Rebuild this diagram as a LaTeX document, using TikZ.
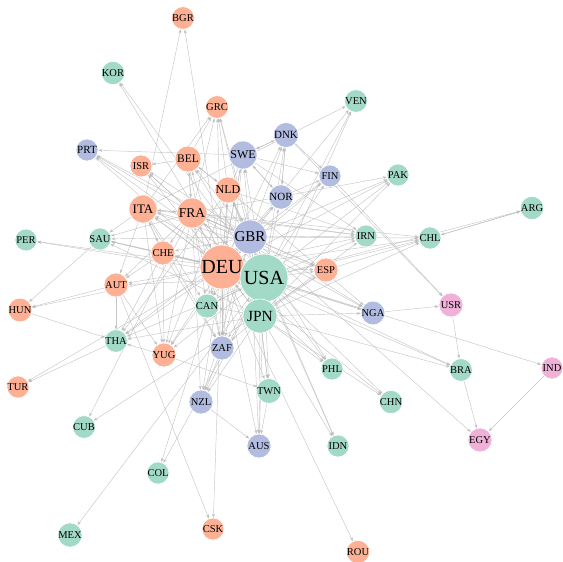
\documentclass[tikz,border=0pt]{standalone}
\usepackage{fontspec}
\setmainfont{Liberation Serif}
\usetikzlibrary{arrows.meta,backgrounds}
\definecolor{co}{HTML}{FDB094}
\definecolor{cg}{HTML}{A2DAC7}
\definecolor{cb}{HTML}{B1BCE0}
\definecolor{cp}{HTML}{EFB1D8}
\definecolor{ce}{HTML}{BDBDBD}
\tikzset{
  cn/.style={circle, inner sep=0pt, draw=white, line width=0.6pt, text=black},
  edge/.style={draw=ce, line width=0.45pt, -{Stealth[length=4pt,width=3pt]}, opacity=0.85}
}
\newcommand{\cty}[6]{\node[cn, fill=#5, minimum size=#4*2pt, font=\fontsize{#6}{#6}\selectfont] (#1) at (#2,#3) {#1};}
\begin{document}
\begin{tikzpicture}[x=1pt,y=-1pt]
\useasboundingbox (0,0) rectangle (563,562);
\cty{BGR}{183}{18}{11}{co}{10.5}
\cty{KOR}{113}{73}{11}{cg}{10.5}
\cty{GRC}{217}{107}{11}{co}{10.5}
\cty{VEN}{356}{101}{11}{cg}{10.5}
\cty{PRT}{87}{150}{11}{cb}{11}
\cty{ISR}{141}{166}{11}{co}{10.5}
\cty{BEL}{188}{159}{13}{co}{11.5}
\cty{SWE}{243}{155}{14}{cb}{12}
\cty{DNK}{286}{135}{12}{cb}{11}
\cty{FIN}{330}{176}{11}{cb}{10.5}
\cty{PAK}{398}{175}{11}{cg}{10.5}
\cty{NLD}{228}{190}{13}{co}{12}
\cty{NOR}{281}{197}{12}{cb}{11}
\cty{ITA}{143}{209}{14}{co}{13}
\cty{FRA}{192}{213}{15}{co}{13.5}
\cty{GBR}{250}{237}{17}{cb}{15}
\cty{SAU}{100}{239}{11}{cg}{10.5}
\cty{PER}{26}{240}{11}{cg}{10.5}
\cty{CHE}{163}{253}{12}{co}{10.5}
\cty{IRN}{366}{236}{11}{cg}{10.5}
\cty{CHL}{430}{238}{11}{cg}{10.5}
\cty{ARG}{532}{208}{11}{cg}{10.5}
\cty{DEU}{222}{267}{22}{co}{20}
\cty{USA}{264}{278}{24}{cg}{20}
\cty{ESP}{326}{270}{12}{co}{10.5}
\cty{AUT}{116}{285}{12}{co}{10.5}
\cty{HUN}{20}{310}{11}{co}{10.5}
\cty{CAN}{207}{306}{12}{cg}{10.5}
\cty{USR}{451}{305}{12}{cp}{10.5}
\cty{NGA}{373}{313}{11}{cb}{10.5}
\cty{JPN}{260}{316}{17}{cg}{15.5}
\cty{THA}{116}{341}{11}{cg}{10.5}
\cty{YUG}{164}{355}{12}{co}{10.5}
\cty{ZAF}{222}{348}{12}{cb}{10.5}
\cty{IND}{552}{368}{11}{cp}{10.5}
\cty{BRA}{461}{370}{11}{cg}{10.5}
\cty{PHL}{332}{369}{11}{cg}{10.5}
\cty{CHN}{391}{402}{11}{cg}{10.5}
\cty{NZL}{201}{402}{12}{cb}{10.5}
\cty{TWN}{269}{391}{12}{cg}{10.5}
\cty{TUR}{18}{387}{11}{co}{10.5}
\cty{CUB}{84}{427}{11}{cg}{10.5}
\cty{AUS}{259}{446}{12}{cb}{10.5}
\cty{IDN}{338}{446}{11}{cg}{10.5}
\cty{EGY}{480}{440}{12}{cp}{10.5}
\cty{COL}{158}{473}{11}{cg}{10.5}
\cty{CSK}{213}{529}{11}{co}{10.5}
\cty{MEX}{70}{535}{11}{cg}{10.5}
\cty{ROU}{358}{552}{11}{co}{10.5}
\begin{pgfonlayer}{background}
\fill[white] (0,0) rectangle (563,562);
\foreach \a/\b in {USA/DEU,DEU/USA,USA/GBR,GBR/USA,USA/JPN,JPN/USA,DEU/GBR,GBR/DEU,DEU/FRA,FRA/DEU,USA/FRA,FRA/ITA,ITA/FRA,DEU/ITA,ITA/DEU,DEU/NLD,NLD/DEU,DEU/BEL,BEL/FRA,FRA/BEL,NLD/BEL,BEL/NLD,DEU/SWE,SWE/DEU,GBR/SWE,USA/SWE,SWE/NOR,NOR/SWE,SWE/DNK,DNK/SWE,SWE/FIN,DNK/NOR,NOR/DNK,DEU/CHE,CHE/DEU,FRA/CHE,ITA/CHE,CHE/ITA,DEU/AUT,ITA/AUT,CHE/AUT,USA/CAN,CAN/USA,JPN/CAN,GBR/CAN,DEU/CAN,DEU/JPN,JPN/DEU,GBR/JPN,USA/NLD,GBR/NLD,NLD/GBR,GBR/FRA,FRA/GBR,USA/ITA,GBR/ITA,USA/BEL,GBR/BEL,USA/CHE,GBR/CHE,USA/NOR,GBR/NOR,DEU/NOR,USA/DNK,DEU/DNK,GBR/DNK,USA/FIN,DEU/FIN,GBR/FIN,DNK/FIN,NOR/FIN,USA/ESP,DEU/ESP,GBR/ESP,FRA/ESP,ITA/ESP,JPN/ESP,USA/AUT,FRA/AUT,FRA/CAN,ITA/CAN}
  \draw[edge] (\a) -- (\b);
\foreach \a/\b in {DEU/BGR,ITA/BGR,USA/KOR,JPN/KOR,USA/GRC,DEU/GRC,FRA/GRC,GBR/GRC,BEL/GRC,NLD/GRC,ITA/GRC,USA/VEN,DEU/VEN,JPN/VEN,ITA/VEN,GBR/PRT,DEU/PRT,USA/PRT,FRA/PRT,SWE/PRT,USA/ISR,DEU/ISR,FRA/ISR,GBR/ISR,BEL/ISR,USA/PAK,DEU/PAK,GBR/PAK,JPN/PAK,FRA/PAK,USA/IRN,DEU/IRN,GBR/IRN,JPN/IRN,FRA/IRN,ITA/IRN,NLD/IRN,SWE/IRN,USA/CHL,DEU/CHL,GBR/CHL,JPN/CHL,ESP/CHL,FRA/CHL,ARG/CHL,CHL/ARG,USA/ARG,FIN/USR,DNK/USR,NGA/USR,USA/NGA,GBR/NGA,DEU/NGA,JPN/NGA,NLD/NGA,FRA/NGA,USA/IND,IND/EGY,USA/BRA,DEU/BRA,JPN/BRA,USR/BRA,BRA/EGY,GBR/EGY,USA/PHL,JPN/PHL,DEU/PHL,GBR/PHL,JPN/CHN,USA/CHN,DEU/CHN,USA/TWN,JPN/TWN,DEU/TWN,GBR/TWN,TWN/AUS,USA/NZL,GBR/NZL,DEU/NZL,JPN/NZL,FRA/NZL,NZL/AUS,USA/AUS,JPN/AUS,GBR/AUS,DEU/AUS,USA/ZAF,DEU/ZAF,GBR/ZAF,FRA/ZAF,JPN/ZAF,ITA/ZAF,CHE/ZAF,NLD/ZAF,BEL/ZAF,SWE/ZAF,DEU/YUG,USA/YUG,ITA/YUG,AUT/YUG,FRA/YUG,CHE/YUG,SWE/YUG,GBR/YUG,JPN/THA,USA/THA,DEU/THA,GBR/THA,YUG/THA,AUT/THA,HUN/THA,CHE/THA,NLD/THA,AUT/HUN,DEU/HUN,SAU/HUN,THA/TUR,DEU/TUR,FRA/CUB,ESP/CUB,DEU/COL,USA/COL,USA/MEX,DEU/CSK,AUT/CSK,DEU/ROU,USA/IDN,JPN/IDN,NLD/IDN,DEU/PER,USA/PER,FRA/SAU,ITA/SAU,USA/SAU,GBR/SAU,DEU/SAU,CHE/SAU,JPN/SAU,YUG/TWN,ZAF/NZL}
  \draw[edge] (\a) -- (\b);
\end{pgfonlayer}
\end{tikzpicture}
\end{document}
